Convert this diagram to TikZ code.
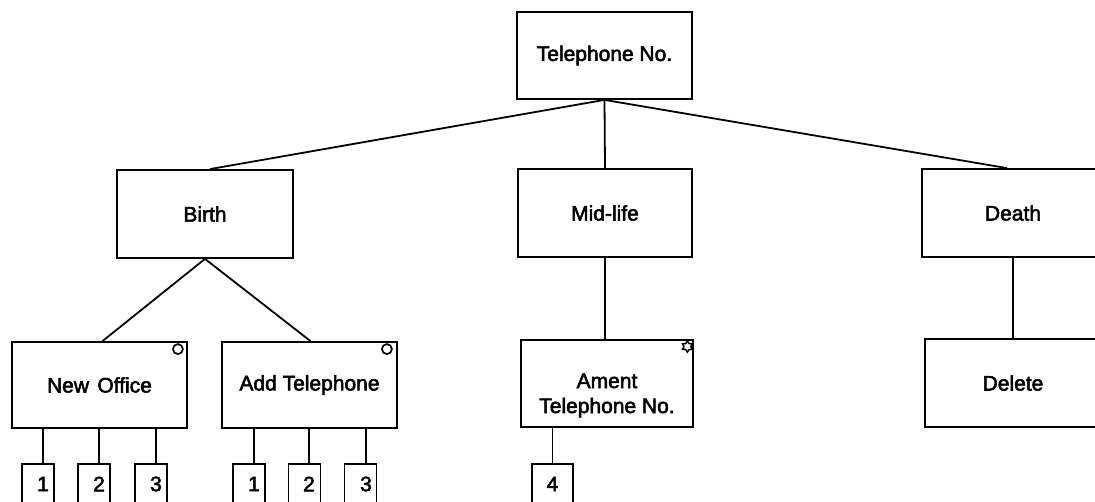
\documentclass[tikz,border=0pt]{standalone}
\usepackage{fontspec}
\setmainfont{Liberation Sans}
\newfontfamily\heavyfont{Liberation Sans}[FakeBold=2.5]
\usetikzlibrary{shapes.geometric}
\begin{document}
\begin{tikzpicture}[x=1pt,y=-1pt,
  box/.style={draw, line width=1.8pt, minimum width=175pt, minimum height=87pt, inner sep=0pt, font=\heavyfont\fontsize{21}{25}\selectfont, align=center},
  boxtext/.style={inner sep=0pt, font=\heavyfont\fontsize{21}{25}\selectfont, align=center},
  subbox/.style={draw, line width=1.7pt, minimum width=32pt, minimum height=60pt, anchor=north, inner sep=0pt},
  num/.style={inner sep=0pt, font=\heavyfont\fontsize{21}{24}\selectfont},
  link/.style={line width=1.8pt},
  circmark/.style={draw, circle, line width=1.7pt, minimum size=10pt, inner sep=0pt},
  starmark/.style={draw, star, star points=6, star point ratio=1.6, line width=1.5pt, minimum size=11pt, inner sep=0pt}
]
\useasboundingbox (0,0) rectangle (1095,502);
\clip (0,0) rectangle (1095,502);

% main boxes
\node[box] (tel) at (604.5,55.5) {Telephone No.};
\node[box, minimum width=176pt, minimum height=88pt] (birth) at (205,214) {Birth};
\node[box, minimum width=174pt, minimum height=88pt] (mid) at (605,213) {Mid-life};
\node[box, minimum width=182pt, minimum height=88pt] (death) at (1013,213) {Death};
\node[box, minimum height=86pt] (newoff) at (99.5,385) {New\hspace{0.4em}Office};
\node[box, minimum height=86pt] (addtel) at (309.5,385) {Add Telephone};
\node[box, minimum width=172pt] (ament) at (607,383.5) {};
\node[boxtext] (amenttxt) at ([yshift=-12pt]ament.center) {Ament\\Telephone No.};
\node[box, minimum width=176pt, minimum height=88pt] (delete) at (1013,383) {Delete};

% markers
\node[circmark] (nomk) at ([xshift=-10pt,yshift=-8pt]newoff.north east) {};
\node[circmark] (atmk) at ([xshift=-11pt,yshift=-8pt]addtel.north east) {};
\node[starmark] (amk) at ([xshift=-6.5pt,yshift=-7.5pt]ament.north east) {};

% sub boxes
\node[subbox] (no1) at (38,463) {};
\node[subbox] (no2) at (94,463) {};
\node[subbox] (no3) at (151,463) {};
\node[subbox] (at1) at (249,463) {};
\node[subbox] (at2) at (304.5,463) {};
\node[subbox] (at3) at (360.5,463) {};
\node[subbox, minimum width=41pt] (am4) at (552.5,463) {};

\coordinate (c-no1) at ([xshift=5pt]no1.north);
\coordinate (c-no2) at ([xshift=5pt]no2.north);
\coordinate (c-no3) at ([xshift=5pt]no3.north);
\coordinate (c-at1) at ([xshift=5pt]at1.north);
\coordinate (c-at2) at ([xshift=4.5pt]at2.north);
\coordinate (c-at3) at ([xshift=5.5pt]at3.north);
\coordinate (c-am4) at ([xshift=0pt]am4.north);

\node[num] (t-no1) at ([yshift=-21pt]c-no1) {1};
\node[num] (t-no2) at ([yshift=-21pt]c-no2) {2};
\node[num] (t-no3) at ([yshift=-21pt]c-no3) {3};
\node[num] (t-at1) at ([yshift=-21pt]c-at1) {1};
\node[num] (t-at2) at ([yshift=-21pt]c-at2) {2};
\node[num] (t-at3) at ([yshift=-21pt]c-at3) {3};
\node[num] (t-am4) at ([yshift=-21pt]c-am4) {4};

% connectors
\draw[link] (tel.south) -- ([xshift=5pt]birth.north);
\draw[link] (tel.south) -- (mid.north);
\draw[link] (tel.south) -- ([xshift=-6pt]death.north);
\draw[link] (birth.south) -- ([xshift=3pt]newoff.north);
\draw[link] (birth.south) -- ([xshift=1pt]addtel.north);
\draw[link] (mid.south) -- (mid.south |- ament.north);
\draw[link] (death.south) -- (delete.north);

\foreach \c in {no1,no2,no3} \draw[link] (c-\c) -- (c-\c |- newoff.south);
\foreach \c in {at1,at2,at3} \draw[link] (c-\c) -- (c-\c |- addtel.south);
\draw[link] (c-am4) -- (c-am4 |- ament.south);
\end{tikzpicture}
\end{document}
